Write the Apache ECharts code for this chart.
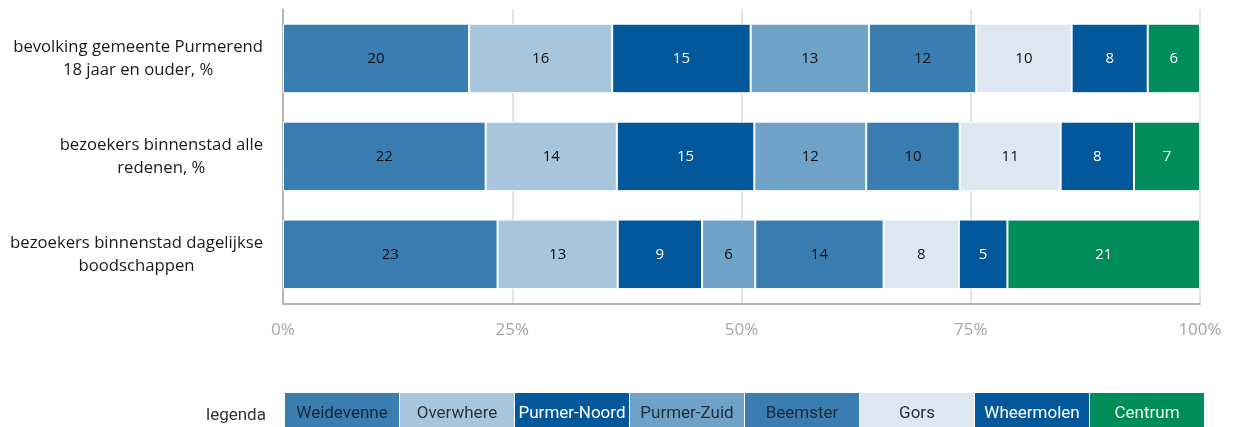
<!DOCTYPE html>
<html>
<head>
<meta charset="utf-8">
<script src="https://cdn.jsdelivr.net/npm/echarts@6/dist/echarts.min.js"></script>
<style>
html,body{margin:0;padding:0;background:#fff;}
#chart{width:1236px;height:427px;}
</style>
</head>
<body>
<div id="chart"></div>
<script>
const categories = [
  'bevolking gemeente Purmerend\n18 jaar en ouder, %',
  'bezoekers binnenstad alle\nredenen, %',
  'bezoekers binnenstad dagelijkse\nboodschappen'
];
const districts = ['Weidevenne','Overwhere','Purmer-Noord','Purmer-Zuid','Beemster','Gors','Wheermolen','Centrum'];
const weidevenne  = [20.3, 22.1, 23.4];
const overwhere   = [15.6, 14.3, 13.1];
const purmerNoord = [15.1, 15.0, 9.2];
const purmerZuid  = [12.9, 12.2, 5.8];
const beemster    = [11.7, 10.2, 14.0];
const gors        = [10.4, 11.0, 8.2];
const wheermolen  = [8.3, 8.0, 5.3];
const centrum     = [5.7, 7.2, 21.0];
const xTicks = [0, 25, 50, 75, 100];

const seriesValues = [weidevenne, overwhere, purmerNoord, purmerZuid, beemster, gors, wheermolen, centrum];
const colors = ['#3a7db0','#a7c5dd','#03589b','#6ea2c8','#3a7db0','#dce7f1','#03589b','#008d5b'];
const labelColors = [
  ['#111','#111','#111'],
  ['#111','#111','#111'],
  ['#fff','#fff','#fff'],
  ['#111','#111','#111'],
  ['#111','#111','#111'],
  ['#111','#111','#111'],
  ['#fff','#fff','#fff'],
  ['#fff','#fff','#fff']
];
const legendTextColors = ['#16283a','#2a3440','#ffffff','#22303c','#1d2c3a','#2a3036','#ffffff','#e8f5ee'];

const chart = echarts.init(document.getElementById('chart'), null, {renderer:'canvas'});

const series = districts.map((name, i) => ({
  name: name,
  type: 'bar',
  stack: 'total',
  barCategoryGap: '29%',
  itemStyle: { color: colors[i], borderColor: '#ffffff', borderWidth: 1 },
  label: {
    show: true,
    position: 'inside',
    fontFamily: 'Open Sans',
    fontSize: 15,
    formatter: p => String(Math.round(p.value))
  },
  emphasis: { disabled: true },
  data: seriesValues[i].map((v, j) => ({ value: v, label: { color: labelColors[i][j] } }))
}));

const legendRich = {};
districts.forEach((name, i) => {
  legendRich['d' + i] = {
    backgroundColor: colors[i],
    color: legendTextColors[i],
    width: 114,
    height: 42,
    lineHeight: 42,
    align: 'center',
    fontFamily: 'Roboto',
    fontSize: 17
  };
});

chart.setOption({
  animation: false,
  title: {
    text: 'legenda',
    left: 201,
    top: 402,
    textStyle: { fontFamily: 'Roboto', fontSize: 17, fontWeight: 'normal', color: '#333' }
  },
  legend: {
    left: 279,
    top: 393,
    padding: 0,
    itemWidth: 0,
    itemHeight: 0,
    itemGap: -5,
    selectedMode: false,
    icon: 'rect',
    data: districts,
    formatter: name => '{d' + districts.indexOf(name) + '|' + name + '}',
    textStyle: { rich: legendRich }
  },
  grid: { left: 283, right: 36, top: 9.5, bottom: 123.7, containLabel: false },
  xAxis: {
    type: 'value',
    min: xTicks[0],
    max: xTicks[xTicks.length - 1],
    interval: 25,
    axisLine: { show: true, lineStyle: { color: '#b4b4b4', width: 2 } },
    axisTick: { show: false },
    splitLine: { show: true, lineStyle: { color: '#d9d9d9', width: 1.5 } },
    axisLabel: {
      formatter: v => v + '%',
      color: '#a6a6a6',
      fontFamily: 'Open Sans',
      fontSize: 17,
      margin: 18
    }
  },
  yAxis: {
    type: 'category',
    data: categories,
    inverse: true,
    axisLine: { show: true, lineStyle: { color: '#b4b4b4', width: 2 } },
    axisTick: { show: false },
    axisLabel: {
      margin: 20,
      align: 'right',
      formatter: v => v.split('\n').map(s => '{c|' + s + '}').join('\n'),
      rich: {
        c: { align: 'center', fontFamily: 'Open Sans', fontSize: 16.7, color: '#1a1a1a', lineHeight: 23 }
      }
    }
  },
  series: series
});
</script>
</body>
</html>
